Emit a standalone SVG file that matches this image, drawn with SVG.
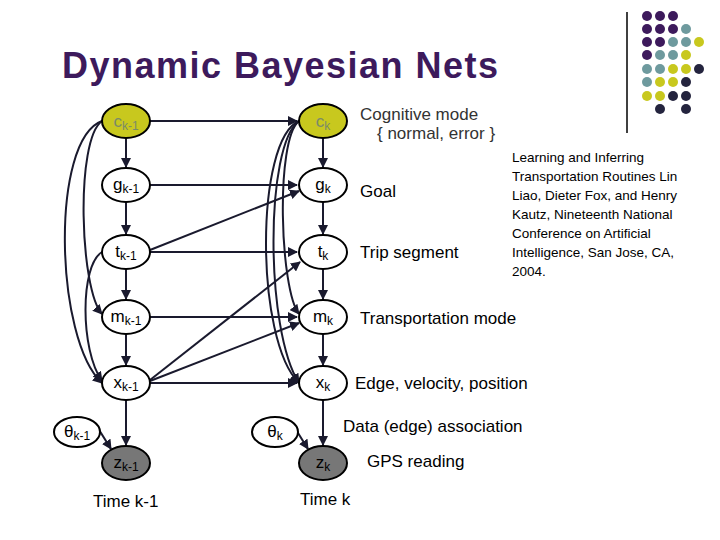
<svg xmlns="http://www.w3.org/2000/svg" width="720" height="540" viewBox="0 0 720 540">
<style>
text{font-family:"Liberation Sans",Arial,sans-serif;fill:#000}
.n{fill:#fff;stroke:#000;stroke-width:2}
.c{fill:#c8c81e}
.z{fill:#777}
.l{font-size:17px}
.e{stroke:#1a1a2e;stroke-width:2;fill:none;marker-end:url(#a)}
.nl{font-size:17px;text-anchor:middle}
.s{font-size:12px}
.r{font-size:13.5px}
</style>
<defs><marker id="a" viewBox="0 0 10 10" refX="9" refY="5" markerWidth="5" markerHeight="5" orient="auto"><path d="M0,0L10,5L0,10z" fill="#1a1a2e"/></marker></defs>
<rect width="720" height="540" fill="#fff"/>
<text x="62" y="78" font-size="36" font-weight="bold" textLength="436" style="fill:#3d1a5c">Dynamic Bayesian Nets</text>
<line x1="627" y1="12" x2="627" y2="133" stroke="#000" stroke-width="1.5"/>
<g id="dots">
<g fill="#3d1a5c"><circle cx="647" cy="16" r="5"/><circle cx="660" cy="16" r="5"/><circle cx="673" cy="16" r="5"/><circle cx="647" cy="29" r="5"/><circle cx="660" cy="29" r="5"/><circle cx="673" cy="29" r="5"/><circle cx="647" cy="42" r="5"/><circle cx="660" cy="42" r="5"/><circle cx="647" cy="55" r="5"/></g>
<g fill="#6e9a9e"><circle cx="686" cy="29" r="5"/><circle cx="673" cy="42" r="5"/><circle cx="686" cy="42" r="5"/><circle cx="660" cy="55" r="5"/><circle cx="673" cy="55" r="5"/><circle cx="647" cy="69" r="5"/><circle cx="660" cy="69" r="5"/><circle cx="647" cy="82" r="5"/></g>
<g fill="#c8c81e"><circle cx="699" cy="42" r="5"/><circle cx="686" cy="55" r="5"/><circle cx="673" cy="69" r="5"/><circle cx="686" cy="69" r="5"/><circle cx="660" cy="82" r="5"/><circle cx="673" cy="82" r="5"/><circle cx="647" cy="96" r="5"/><circle cx="660" cy="96" r="5"/></g>
<g fill="#24243e"><circle cx="699" cy="69" r="5"/><circle cx="686" cy="82" r="5"/><circle cx="673" cy="96" r="5"/><circle cx="686" cy="96" r="5"/><circle cx="660" cy="109" r="5"/><circle cx="686" cy="109" r="5"/></g>
</g>
<g id="edges">
<path class="e" d="M150,121H297"/>
<path class="e" d="M150,185H297"/>
<path class="e" d="M150,252H297"/>
<path class="e" d="M150,317H297"/>
<path class="e" d="M150,383H297"/>
<path class="e" d="M126,138V167"/><path class="e" d="M126,202V234"/><path class="e" d="M126,269V299"/><path class="e" d="M126,334V365"/><path class="e" d="M126,400V445"/>
<path class="e" d="M323,138V167"/><path class="e" d="M323,202V234"/><path class="e" d="M323,269V299"/><path class="e" d="M323,334V365"/><path class="e" d="M323,400V445"/>
<path class="e" d="M150,250L299,191"/>
<path class="e" d="M150,380L300,262"/>
<path class="e" d="M150,381L299,323"/>
<path class="e" d="M96,425L111,449"/>
<path class="e" d="M293,425L308,449"/>
<path class="e" d="M102,121C50,140 55,340 102,383"/>
<path class="e" d="M102,121C75,140 80,290 102,314"/>
<path class="e" d="M102,252C80,265 80,350 102,381"/>
<path class="e" d="M299,121C255,140 255,340 299,383"/>
<path class="e" d="M299,121C275,140 280,290 299,314"/>
<path class="e" d="M299,121C265,145 265,330 299,383"/>
</g>
<g id="c1"><ellipse class="n c" cx="126" cy="121" rx="24" ry="17"/><text class="nl" x="126" y="127" style="fill:#7a8a6a">c<tspan class="s" dy="3">k-1</tspan></text></g>
<g id="c2"><ellipse class="n c" cx="323" cy="121" rx="24" ry="17"/><text class="nl" x="323" y="127" style="fill:#7a8a6a">c<tspan class="s" dy="3">k</tspan></text></g>
<g id="g1"><ellipse class="n" cx="126" cy="185" rx="24" ry="17"/><text class="nl" x="126" y="190">g<tspan class="s" dy="3">k-1</tspan></text></g>
<g id="g2"><ellipse class="n" cx="323" cy="185" rx="24" ry="17"/><text class="nl" x="323" y="190">g<tspan class="s" dy="3">k</tspan></text></g>
<g id="t1"><ellipse class="n" cx="126" cy="252" rx="24" ry="17"/><text class="nl" x="126" y="257">t<tspan class="s" dy="3">k-1</tspan></text></g>
<g id="t2"><ellipse class="n" cx="323" cy="252" rx="24" ry="17"/><text class="nl" x="323" y="257">t<tspan class="s" dy="3">k</tspan></text></g>
<g id="m1"><ellipse class="n" cx="126" cy="317" rx="24" ry="17"/><text class="nl" x="126" y="322">m<tspan class="s" dy="3">k-1</tspan></text></g>
<g id="m2"><ellipse class="n" cx="323" cy="317" rx="24" ry="17"/><text class="nl" x="323" y="322">m<tspan class="s" dy="3">k</tspan></text></g>
<g id="x1"><ellipse class="n" cx="126" cy="383" rx="24" ry="17"/><text class="nl" x="126" y="388">x<tspan class="s" dy="3">k-1</tspan></text></g>
<g id="x2"><ellipse class="n" cx="323" cy="383" rx="24" ry="17"/><text class="nl" x="323" y="388">x<tspan class="s" dy="3">k</tspan></text></g>
<g id="th1"><ellipse class="n" cx="77" cy="432" rx="23" ry="15"/><text class="nl" x="77" y="437">θ<tspan class="s" dy="3">k-1</tspan></text></g>
<g id="th2"><ellipse class="n" cx="275" cy="432" rx="23" ry="15"/><text class="nl" x="275" y="437">θ<tspan class="s" dy="3">k</tspan></text></g>
<g id="z1"><ellipse class="n z" cx="126" cy="463" rx="24" ry="17"/><text class="nl" x="126" y="468">z<tspan class="s" dy="3">k-1</tspan></text></g>
<g id="z2"><ellipse class="n z" cx="323" cy="463" rx="24" ry="17"/><text class="nl" x="323" y="468">z<tspan class="s" dy="3">k</tspan></text></g>
<g id="labels" class="l">
<text class="l" x="360" y="120" style="fill:#333">Cognitive mode</text>
<text class="l" x="377" y="139" style="fill:#333">{ normal, error }</text>
<text class="l" x="360" y="197">Goal</text>
<text class="l" x="360" y="258">Trip segment</text>
<text class="l" x="360" y="324">Transportation mode</text>
<text class="l" x="355" y="389">Edge, velocity, position</text>
<text class="l" x="343" y="432">Data (edge) association</text>
<text class="l" x="367" y="467">GPS reading</text>
<text class="l" x="93" y="507">Time k-1</text>
<text class="l" x="300" y="505">Time k</text>
</g>
<g id="ref" class="r">
<text class="r" x="512" y="162">Learning and Inferring</text>
<text class="r" x="512" y="181">Transportation Routines Lin</text>
<text class="r" x="512" y="200">Liao, Dieter Fox, and Henry</text>
<text class="r" x="512" y="219">Kautz, Nineteenth National</text>
<text class="r" x="512" y="238">Conference on Artificial</text>
<text class="r" x="512" y="257">Intelligence, San Jose, CA,</text>
<text class="r" x="512" y="276">2004.</text>
</g>
</svg>
